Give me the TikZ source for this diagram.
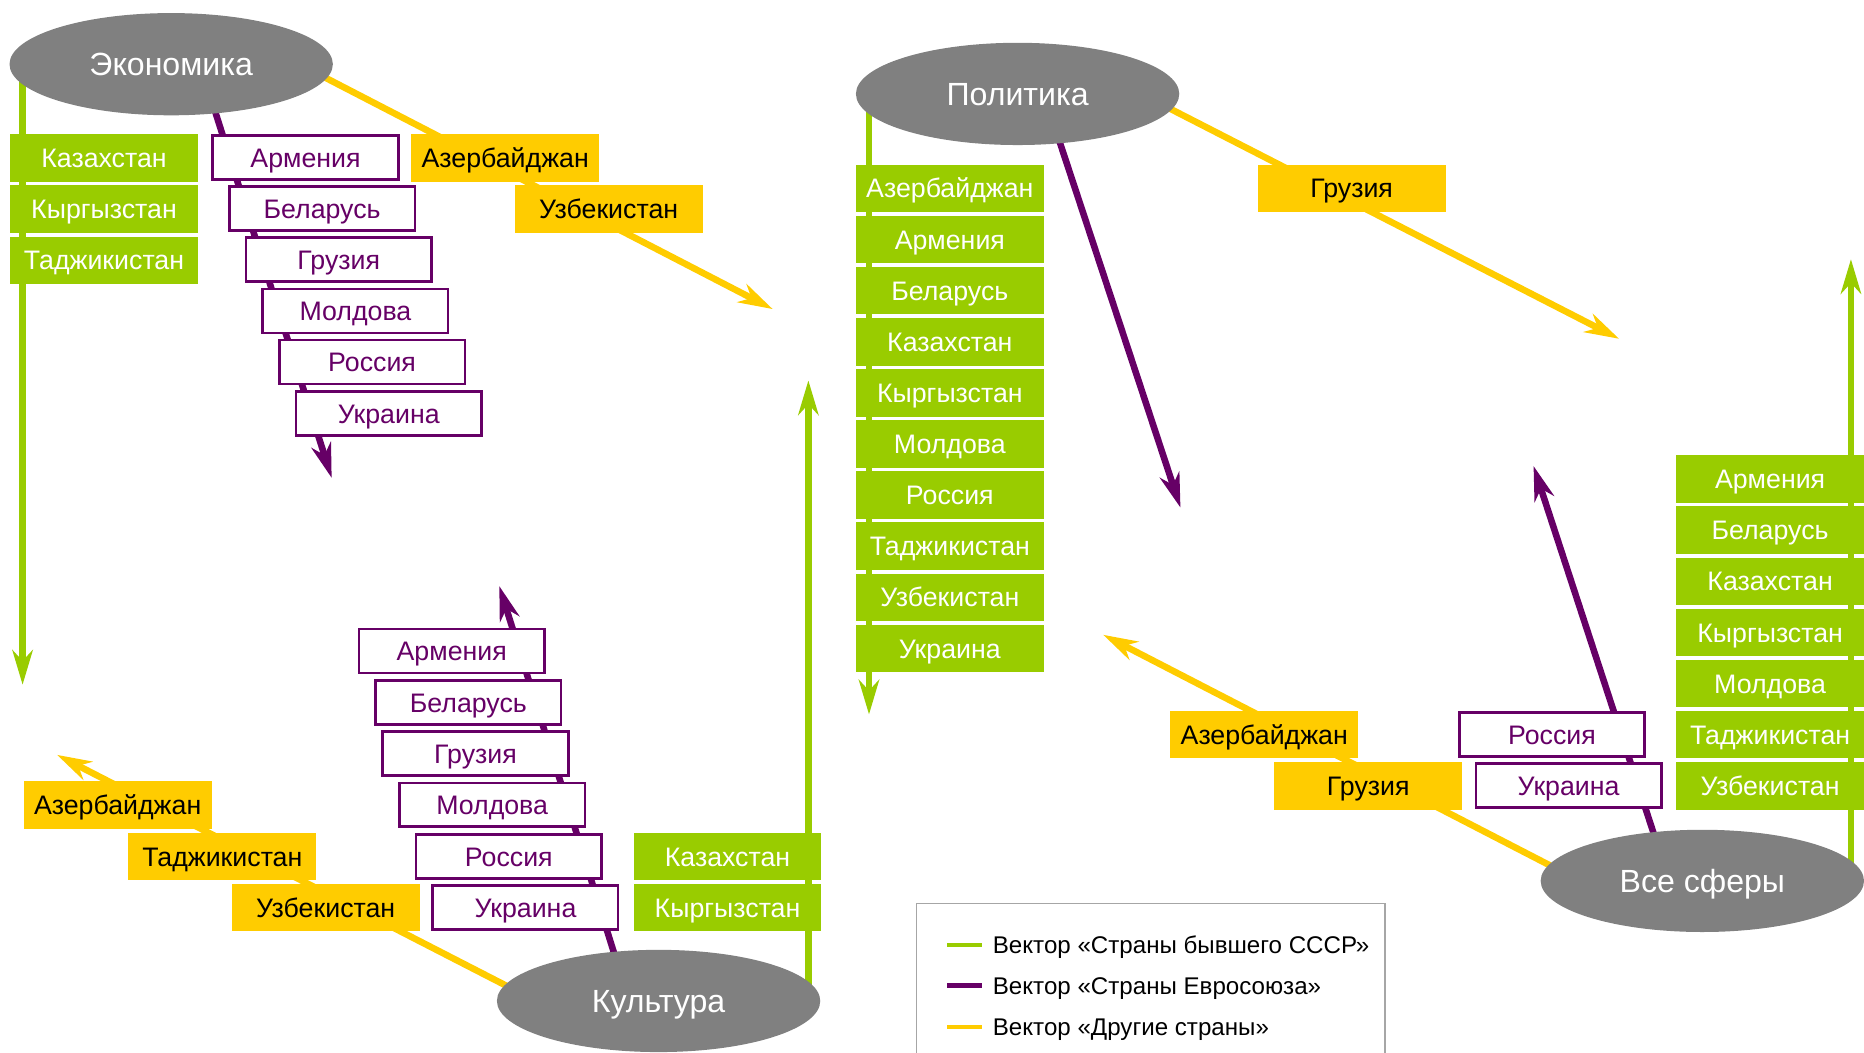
\documentclass[tikz,border=0pt]{standalone}
\usepackage{fontspec}
\setmainfont{Liberation Sans}
\usetikzlibrary{arrows.meta,shapes.geometric}
\definecolor{vgreen}{HTML}{99CC00}
\definecolor{vpurple}{HTML}{660066}
\definecolor{vyellow}{HTML}{FFCC00}
\definecolor{vgray}{HTML}{808080}
\definecolor{vframe}{HTML}{A6A6A6}
\begin{document}
\begin{tikzpicture}[x=1pt,y=-1pt,
  vec/.style={line width=5.5pt,-{Stealth[length=29pt,width=17pt,inset=9pt]}},
  gvec/.style={vec,draw=vgreen,fill=vgreen},
  pvec/.style={vec,draw=vpurple,fill=vpurple},
  yvec/.style={vec,draw=vyellow,fill=vyellow},
  cfont/.style={font=\fontsize{22.5}{24}\selectfont,text height=16.1pt,text depth=0pt},
  sphere/.style={ellipse,fill=vgray,text=white,minimum width=272pt,minimum height=86pt,inner sep=0pt,font=\fontsize{27}{30}\selectfont,text height=19.3pt,text depth=0pt},
  gbox/.style={cfont,fill=vgreen,text=white,minimum width=158pt,minimum height=40pt,inner sep=0pt},
  ybox/.style={cfont,fill=vyellow,text=black,minimum width=158pt,minimum height=40pt,inner sep=0pt},
  pbox/.style={cfont,draw=vpurple,line width=2.2pt,fill=white,text=vpurple,minimum width=156pt,minimum height=37pt,inner sep=0pt},
  legline/.style={line width=3.5pt},
  legtext/.style={anchor=west,inner sep=0pt,font=\fontsize{20.3}{23}\selectfont,text height=14.5pt,text depth=0pt}
]
\useasboundingbox (0,0) rectangle (1568,885);
\clip (0,0) rectangle (1568,885);

% ---------- connector end points ----------
% Economics
\coordinate (EgS) at (19,60);      \coordinate (EgT) at (19,576);
\coordinate (EpS) at (176.6,80);   \coordinate (EpT) at (279,402);
\coordinate (EyS) at (255,55.7);   \coordinate (EyT) at (650,260);
% Politics
\coordinate (PgS) at (731,85);     \coordinate (PgT) at (731,601);
\coordinate (PpS) at (885,100);    \coordinate (PpT) at (993,427);
\coordinate (PyS) at (960,79);     \coordinate (PyT) at (1362,285);
% Culture
\coordinate (CgS) at (680,835);    \coordinate (CgT) at (680,320);
\coordinate (CpS) at (520.7,815);  \coordinate (CpT) at (420,493);
\coordinate (CyS) at (445,839);    \coordinate (CyT) at (48,635);
% All spheres
\coordinate (AgS) at (1557,740);   \coordinate (AgT) at (1557,218);
\coordinate (ApS) at (1395.6,715); \coordinate (ApT) at (1290,392);
\coordinate (AyS) at (1325,738.9); \coordinate (AyT) at (928,534);

% ---------- vectors ----------
\draw[gvec] (EgS) -- (EgT);
\draw[pvec] (EpS) -- (EpT);
\draw[yvec] (EyS) -- (EyT);
\draw[gvec] (PgS) -- (PgT);
\draw[pvec] (PpS) -- (PpT);
\draw[yvec] (PyS) -- (PyT);
\draw[gvec] (CgS) -- (CgT);
\draw[pvec] (CpS) -- (CpT);
\draw[yvec] (CyS) -- (CyT);
\draw[gvec] (AgS) -- (AgT);
\draw[pvec] (ApS) -- (ApT);
\draw[yvec] (AyS) -- (AyT);

% ---------- Economics ----------
\node[gbox] (Eg1) at (87.5,133) {Казахстан};
\node[gbox] (Eg2) at (87.5,176) {Кыргызстан};
\node[gbox] (Eg3) at (87.5,219) {Таджикистан};
\node[pbox] (Ep1) at (257,132.5) {Армения};
\node[pbox] (Ep2) at (271,175.5) {Беларусь};
\node[pbox] (Ep3) at (285,218.5) {Грузия};
\node[pbox] (Ep4) at (299,261.5) {Молдова};
\node[pbox] (Ep5) at (313,304.5) {Россия};
\node[pbox] (Ep6) at (327,348) {Украина};
\node[ybox] (Ey1) at (425,133) {Азербайджан};
\node[ybox] (Ey2) at (512,176) {Узбекистан};
\node[sphere] (E) at (144,54) {Экономика};

% ---------- Politics ----------
\node[gbox] (Pg1) at (799,158.5) {Азербайджан};
\node[gbox] (Pg2) at (799,201.5) {Армения};
\node[gbox] (Pg3) at (799,244.5) {Беларусь};
\node[gbox] (Pg4) at (799,287.5) {Казахстан};
\node[gbox] (Pg5) at (799,330.5) {Кыргызстан};
\node[gbox] (Pg6) at (799,373.5) {Молдова};
\node[gbox] (Pg7) at (799,416.5) {Россия};
\node[gbox] (Pg8) at (799,459.5) {Таджикистан};
\node[gbox] (Pg9) at (799,502.5) {Узбекистан};
\node[gbox] (Pg10) at (799,545.5) {Украина};
\node[ybox] (Py1) at (1137,158.5) {Грузия};
\node[sphere] (P) at (856,79) {Политика};

% ---------- Culture ----------
\node[pbox] (Cp1) at (380,547.5) {Армения};
\node[pbox] (Cp2) at (394,591) {Беларусь};
\node[pbox] (Cp3) at (400,634) {Грузия};
\node[pbox] (Cp4) at (414,677) {Молдова};
\node[pbox] (Cp5) at (428,720.5) {Россия};
\node[pbox] (Cp6) at (442,763.5) {Украина};
\node[gbox] (Cg1) at (612,720.5) {Казахстан};
\node[gbox] (Cg2) at (612,763.5) {Кыргызстан};
\node[ybox] (Cy1) at (99,677) {Азербайджан};
\node[ybox] (Cy2) at (187,720.5) {Таджикистан};
\node[ybox] (Cy3) at (274,763.5) {Узбекистан};
\node[sphere] (C) at (554,842) {Культура};

% ---------- All spheres ----------
\node[gbox] (Ag1) at (1489,403) {Армения};
\node[gbox] (Ag2) at (1489,446) {Беларусь};
\node[gbox] (Ag3) at (1489,489) {Казахстан};
\node[gbox] (Ag4) at (1489,532) {Кыргызстан};
\node[gbox] (Ag5) at (1489,575) {Молдова};
\node[gbox] (Ag6) at (1489,618) {Таджикистан};
\node[gbox] (Ag7) at (1489,661) {Узбекистан};
\node[pbox] (Ap1) at (1305.5,618) {Россия};
\node[pbox] (Ap2) at (1319.5,661) {Украина};
\node[ybox] (Ay1) at (1063.5,618) {Азербайджан};
\node[ybox] (Ay2) at (1151,661) {Грузия};
\node[sphere] (A) at (1432,741) {Все сферы};

% ---------- Legend ----------
\draw[vframe,line width=1.2pt,fill=white] (771,760) rectangle (1165,900);
\coordinate (L1a) at (797,795); \coordinate (L1b) at (826,795);
\coordinate (L2a) at (797,829); \coordinate (L2b) at (826,829);
\coordinate (L3a) at (797,864); \coordinate (L3b) at (826,864);
\draw[legline,vgreen] (L1a) -- (L1b);
\draw[legline,vpurple] (L2a) -- (L2b);
\draw[legline,vyellow] (L3a) -- (L3b);
\node[legtext] (T1) at (835,795) {Вектор «Страны бывшего СССР»};
\node[legtext] (T2) at (835,829) {Вектор «Страны Евросоюза»};
\node[legtext] (T3) at (835,864) {Вектор «Другие страны»};
\end{tikzpicture}
\end{document}
